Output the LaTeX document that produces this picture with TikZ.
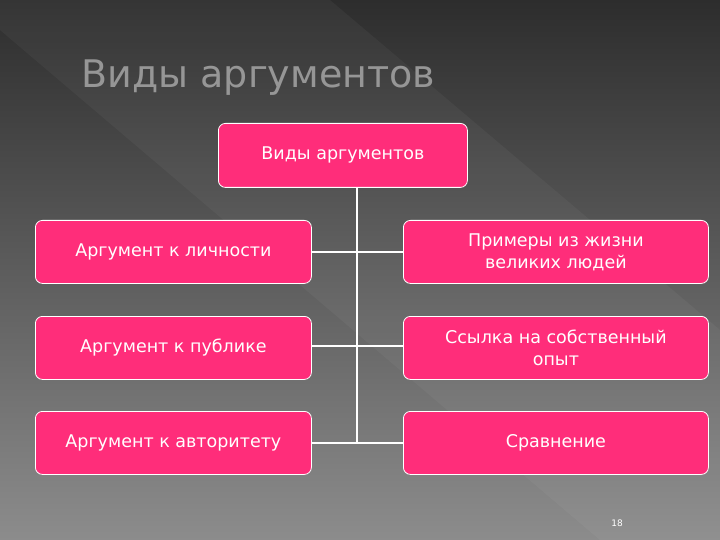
\documentclass[tikz,border=0pt]{standalone}
\usepackage{fontspec}
\setmainfont{DejaVu Sans}
\begin{document}
\begin{tikzpicture}[x=1pt,y=-1pt,
  box/.style={draw=white,line width=0.8pt,fill={rgb,255:red,255;green,45;blue,122},rounded corners=7pt,anchor=north west,text=white,font=\fontsize{17.5}{22}\selectfont,align=center,inner sep=0pt},
  link/.style={draw=white,line width=1.5pt}]
\shade[top color={rgb,255:red,45;green,45;blue,45},bottom color={rgb,255:red,140;green,140;blue,140}] (0,0) rectangle (720,540);
\fill[white,opacity=0.04] (0,0) -- (330,0) -- (720,330) -- (720,540) -- (600,540) -- (0,30) -- cycle;
\useasboundingbox (0,0) rectangle (720,540);
\node[anchor=west,text={rgb,255:red,150;green,150;blue,150},font=\fontsize{38}{44}\selectfont] (title) at (78,78) {Виды аргументов};
\node[box,minimum width=249pt,minimum height=64pt] (top) at (218,123) {Виды аргументов};
\node[box,minimum width=276pt,minimum height=63pt] (l1) at (35,220) {Аргумент к личности};
\node[box,minimum width=276pt,minimum height=63pt] (l2) at (35,316) {Аргумент к публике};
\node[box,minimum width=276pt,minimum height=63pt] (l3) at (35,411) {Аргумент к авторитету};
\node[box,minimum width=305pt,minimum height=63pt] (r1) at (403,220) {Примеры из жизни\\великих людей};
\node[box,minimum width=305pt,minimum height=63pt] (r2) at (403,316) {Ссылка на собственный\\опыт};
\node[box,minimum width=305pt,minimum height=63pt] (r3) at (403,411) {Сравнение};
\coordinate (bot) at (357,443);
\draw[link] (top.south -| bot) -- (bot);
\draw[link] (l1.east |- 0,252) -- (r1.west |- 0,252);
\draw[link] (l2.east |- 0,346) -- (r2.west |- 0,346);
\draw[link] (l3.east |- 0,443) -- (r3.west |- 0,443);
\node[text=white,font=\fontsize{9}{11}\selectfont] (pg) at (617,523) {18};
\end{tikzpicture}
\end{document}
